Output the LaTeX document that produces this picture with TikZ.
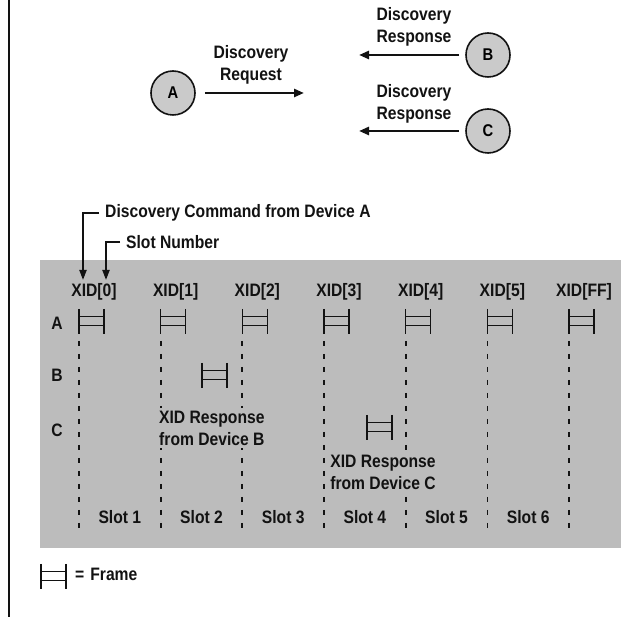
\documentclass[tikz,border=0pt]{standalone}
\usepackage{fontspec}
\setmainfont{Liberation Sans}[FakeStretch=0.87]
\usetikzlibrary{arrows.meta,positioning,calc}
\definecolor{ink}{RGB}{18,18,18}
\definecolor{panelgray}{RGB}{188,188,188}
\definecolor{nodegray}{RGB}{202,202,202}

\tikzset{
  lbl/.style={font=\fontsize{18}{22}\selectfont\bfseries,text=ink,
    inner sep=1pt,align=center},
  dev/.style={circle,draw=ink,line width=1.6pt,fill=nodegray,
    minimum size=44pt,inner sep=0pt,
    font=\fontsize{17}{20}\selectfont\bfseries},
  msg/.style={-{Triangle[length=10pt,width=8pt]},line width=2.6pt,draw=ink},
  ptr/.style={-{Triangle[length=10pt,width=7pt]},line width=2pt,draw=ink},
  slotline/.style={ink,line width=1.7pt,dash pattern=on 5pt off 8pt},
  xidframe/.pic={
    \draw[ink,line width=1.6pt] (0,0) -- (0,25) (25,0) -- (25,25);
    \draw[ink,line width=1pt] (0,8) -- (25,8) (0,17) -- (25,17);
  }
}

\begin{document}
\begin{tikzpicture}[x=1pt,y=-1pt]
  \useasboundingbox (0,0) rectangle (638,617);
  \draw[ink,line width=1.6pt] (9,0) -- (9,617);

  % devices and discovery messages
  \node[dev] (A) at (173,93) {A};
  \node[dev] (B) at (488,55) {B};
  \node[dev] (C) at (488,131) {C};
  \coordinate (reqend) at (304,93);
  \coordinate (bend) at (359,55);
  \coordinate (cend) at (359,131);
  \draw[msg,shorten <=9pt] (A.east) -- (reqend);
  \draw[msg,shorten <=6pt] (B.west) -- (bend);
  \draw[msg,shorten <=6pt] (C.west) -- (cend);
  \node[lbl] (reqlbl) at (251,65) {Discovery\\Request};
  \node[lbl] (blbl) at (414,27) {Discovery\\Response};
  \node[lbl] (clbl) at (414,104) {Discovery\\Response};

  % time slot panel
  \fill[panelgray] (40,260) rectangle (621,548);

  \node[lbl,anchor=west] (cmd) at (104,213) {Discovery Command from Device A};
  \node[lbl,anchor=west] (slotno) at (125,242) {Slot Number};
  \coordinate (cmdtip) at (83,280);
  \coordinate (slottip) at (106,280);
  \draw[ptr] ([xshift=-5pt]cmd.west) -| (cmdtip);
  \draw[ptr] ([xshift=-5pt]slotno.west) -| (slottip);

  \foreach \i/\t in {0/0,1/1,2/2,3/3,4/4,5/5,6/FF}{
    \node[lbl] (x\i) at (79+81.67*\i+15,292) {XID[\t]};
    \pic at (79+81.67*\i,309) {xidframe};
    \draw[slotline] (79+81.67*\i,341) -- (79+81.67*\i,530);
  }

  \node[lbl] (rowA) at (57,323) {A};
  \node[lbl] (rowB) at (57,375) {B};
  \node[lbl] (rowC) at (57,430) {C};

  \pic at (202,363) {xidframe};
  \pic at (367,415) {xidframe};
  \node[lbl,fill=panelgray,align=left,anchor=west,inner sep=3pt] (respb)
    at (156,428) {XID Response\\from Device B};
  \node[lbl,fill=panelgray] (respc) at (383,472) {XID Response\\from Device C};

  \foreach \i in {1,...,6}
    \node[lbl] (s\i) at (79+81.67*\i-40.8,517) {Slot \i};

  % legend
  \pic at (41,564) {xidframe};
  \node[lbl,anchor=west] (legend) at (74,574) {=\,\,Frame};
\end{tikzpicture}
\end{document}
